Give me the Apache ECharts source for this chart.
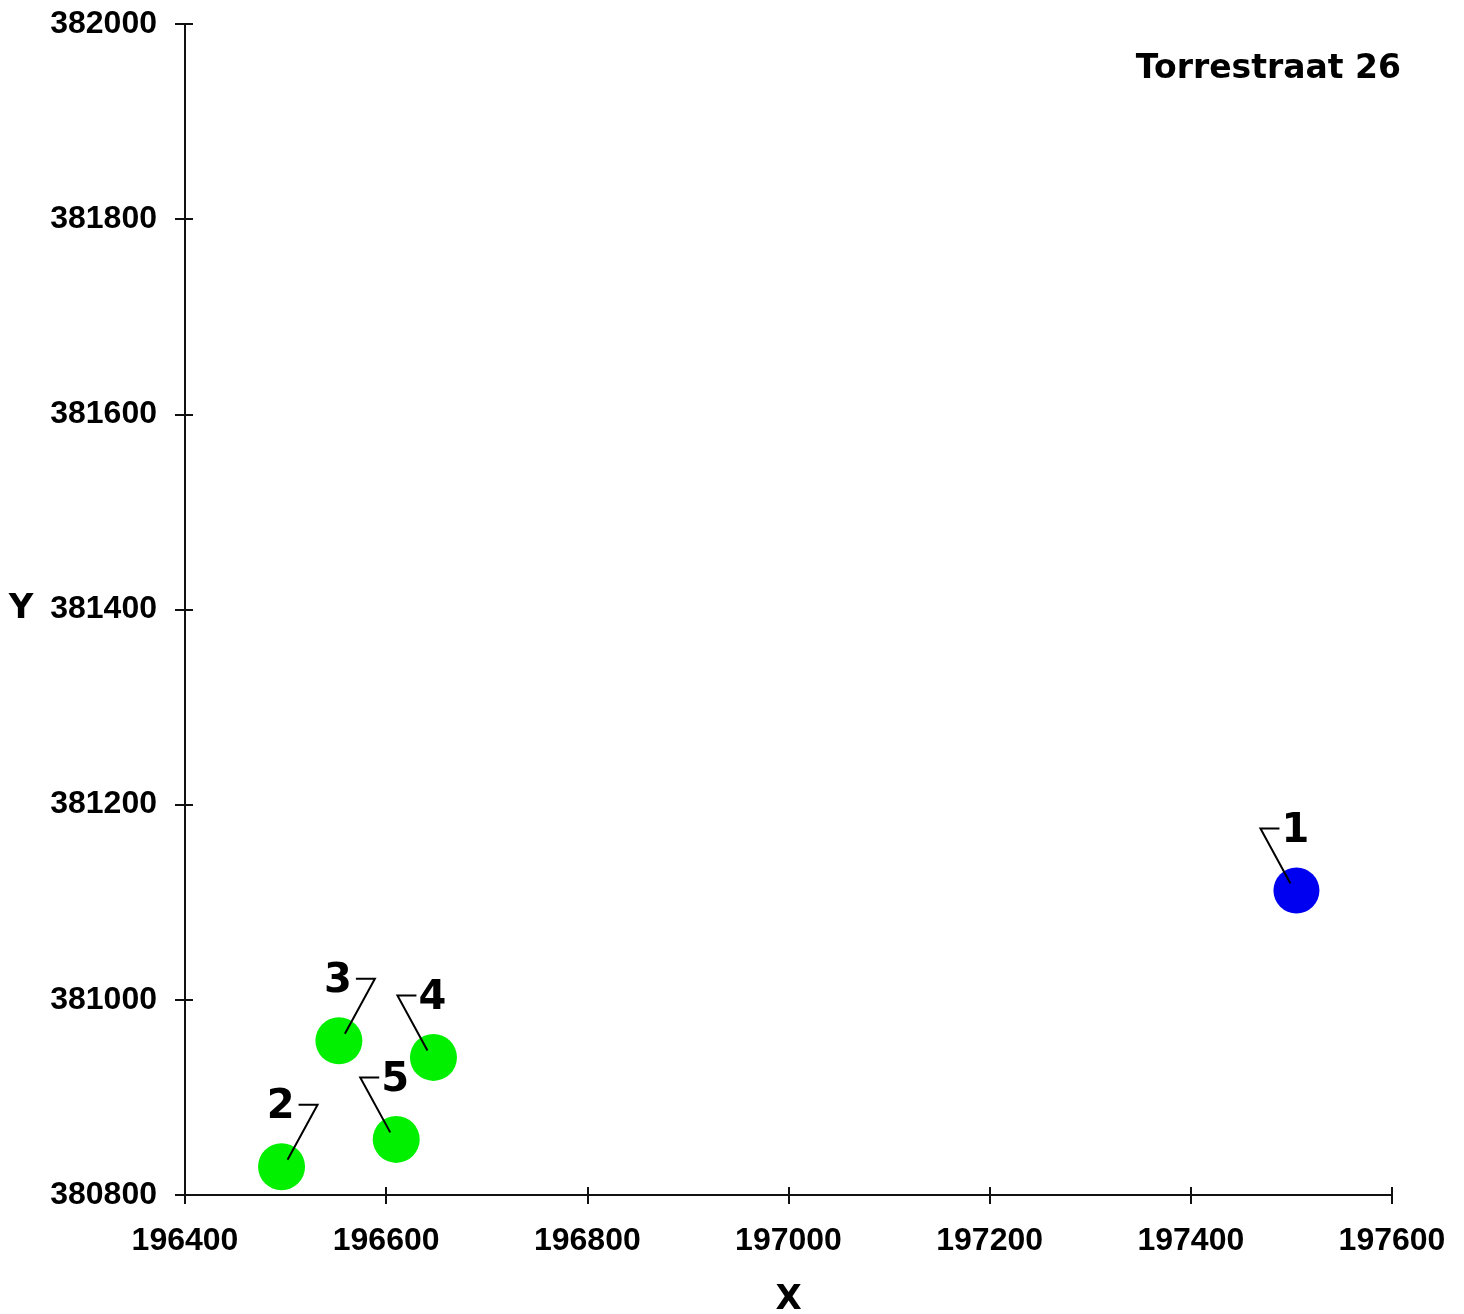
<!DOCTYPE html>
<html>
<head>
<meta charset="utf-8">
<script src="https://cdn.jsdelivr.net/npm/echarts@6/dist/echarts.min.js"></script>
<style>
html,body{margin:0;padding:0;background:#fff;overflow:hidden;}
#chart{width:1464px;height:1314px;}
</style>
</head>
<body>
<div id="chart"></div>
<script>
// ---- data ----
const pointIds = ['1', '2', '3', '4', '5'];
const xValues = [197505, 196496, 196553, 196647, 196610];
const yValues = [381112, 380829, 380958, 380941, 380857];
const pointGroup = ['target', 'ref', 'ref', 'ref', 'ref'];
const xTicks = [196400, 196600, 196800, 197000, 197200, 197400, 197600];
const yTicks = [380800, 381000, 381200, 381400, 381600, 381800, 382000];
const titleText = 'Torrestraat 26';

// ---- styling (not data) ----
const labelSide = [-1, 1, 1, -1, -1]; // leader line goes left (-1) or right (1)
const groupColor = { target: '#0000f0', ref: '#00f000' };

const blueData = [], greenData = [], labelData = [];
pointIds.forEach((id, i) => {
  const d = [xValues[i], yValues[i]];
  (pointGroup[i] === 'target' ? blueData : greenData).push(d);
  labelData.push([xValues[i], yValues[i], labelSide[i]]);
});

const tickFont = { fontFamily: 'Liberation Sans', fontWeight: 'bold', fontSize: 32, color: '#000' };
const lineCol = '#111';
const axisCommon = {
  type: 'value',
  splitLine: { show: false },
  axisLine: { show: true, lineStyle: { color: lineCol, width: 2 } }
};
const xMin = xTicks[0], xMax = xTicks[xTicks.length - 1], xInt = xTicks[1] - xTicks[0];
const yMin = yTicks[0], yMax = yTicks[yTicks.length - 1], yInt = yTicks[1] - yTicks[0];

const chart = echarts.init(document.getElementById('chart'), null, { renderer: 'canvas', width: 1464, height: 1314 });
chart.setOption({
  animation: false,
  backgroundColor: '#fff',
  title: {
    text: titleText,
    right: 63,
    top: 53,
    padding: 0,
    textStyle: { fontFamily: 'DejaVu Sans', fontWeight: 'bold', fontSize: 33, color: '#000' }
  },
  grid: { left: 185, top: 24, width: 1207, height: 1171, containLabel: false, outerBoundsMode: 'none' },
  xAxis: [
    Object.assign({}, axisCommon, {
      min: xMin, max: xMax, interval: xInt, position: 'bottom',
      name: 'X', nameLocation: 'middle', nameGap: 105,
      nameTextStyle: { fontFamily: 'DejaVu Sans', fontWeight: 'bold', fontSize: 34, color: '#000', verticalAlign: 'middle' },
      axisTick: { show: true, inside: false, length: 9, lineStyle: { color: lineCol, width: 2 } },
      axisLabel: Object.assign({ margin: 30, formatter: v => String(v) }, tickFont)
    }),
    Object.assign({}, axisCommon, {
      min: xMin, max: xMax, interval: xInt, position: 'bottom',
      axisLine: { show: false },
      axisTick: { show: true, inside: true, length: 8, lineStyle: { color: lineCol, width: 2 } },
      axisLabel: { show: false }
    })
  ],
  yAxis: [
    Object.assign({}, axisCommon, {
      min: yMin, max: yMax, interval: yInt, position: 'left',
      name: 'Y', nameLocation: 'middle', nameGap: 164, nameRotate: 0,
      nameTextStyle: { fontFamily: 'DejaVu Sans', fontWeight: 'bold', fontSize: 34, color: '#000', align: 'center', verticalAlign: 'middle' },
      axisTick: { show: true, inside: false, length: 10, lineStyle: { color: lineCol, width: 2 } },
      axisLabel: Object.assign({ margin: 28, formatter: v => String(v) }, tickFont)
    }),
    Object.assign({}, axisCommon, {
      min: yMin, max: yMax, interval: yInt, position: 'left',
      axisLine: { show: false },
      axisTick: { show: true, inside: true, length: 8, lineStyle: { color: lineCol, width: 2 } },
      axisLabel: { show: false }
    })
  ],
  series: [
    {
      name: 'target', type: 'scatter', data: blueData, symbol: 'circle', symbolSize: 46,
      itemStyle: { color: groupColor.target, opacity: 1 }, z: 2
    },
    {
      name: 'reference', type: 'scatter', data: greenData, symbol: 'circle', symbolSize: 47,
      itemStyle: { color: groupColor.ref, opacity: 1 }, z: 2
    },
    {
      name: 'labels', type: 'custom', data: labelData, z: 5,
      renderItem: function (params, api) {
        const p = api.coord([api.value(0), api.value(1)]);
        const s = api.value(2);
        return {
          type: 'group',
          children: [
            {
              type: 'polyline',
              shape: { points: [[p[0] + s * 6, p[1] - 7], [p[0] + s * 36, p[1] - 62], [p[0] + s * 17, p[1] - 62]] },
              style: { stroke: '#000', lineWidth: 2, fill: null }
            },
            {
              type: 'text',
              style: {
                text: pointIds[params.dataIndex],
                x: p[0] - 1, y: p[1] - 59,
                textAlign: 'center', textVerticalAlign: 'middle',
                font: 'bold 40px "DejaVu Sans"', fill: '#000'
              }
            }
          ]
        };
      }
    }
  ]
});
</script>
</body>
</html>
